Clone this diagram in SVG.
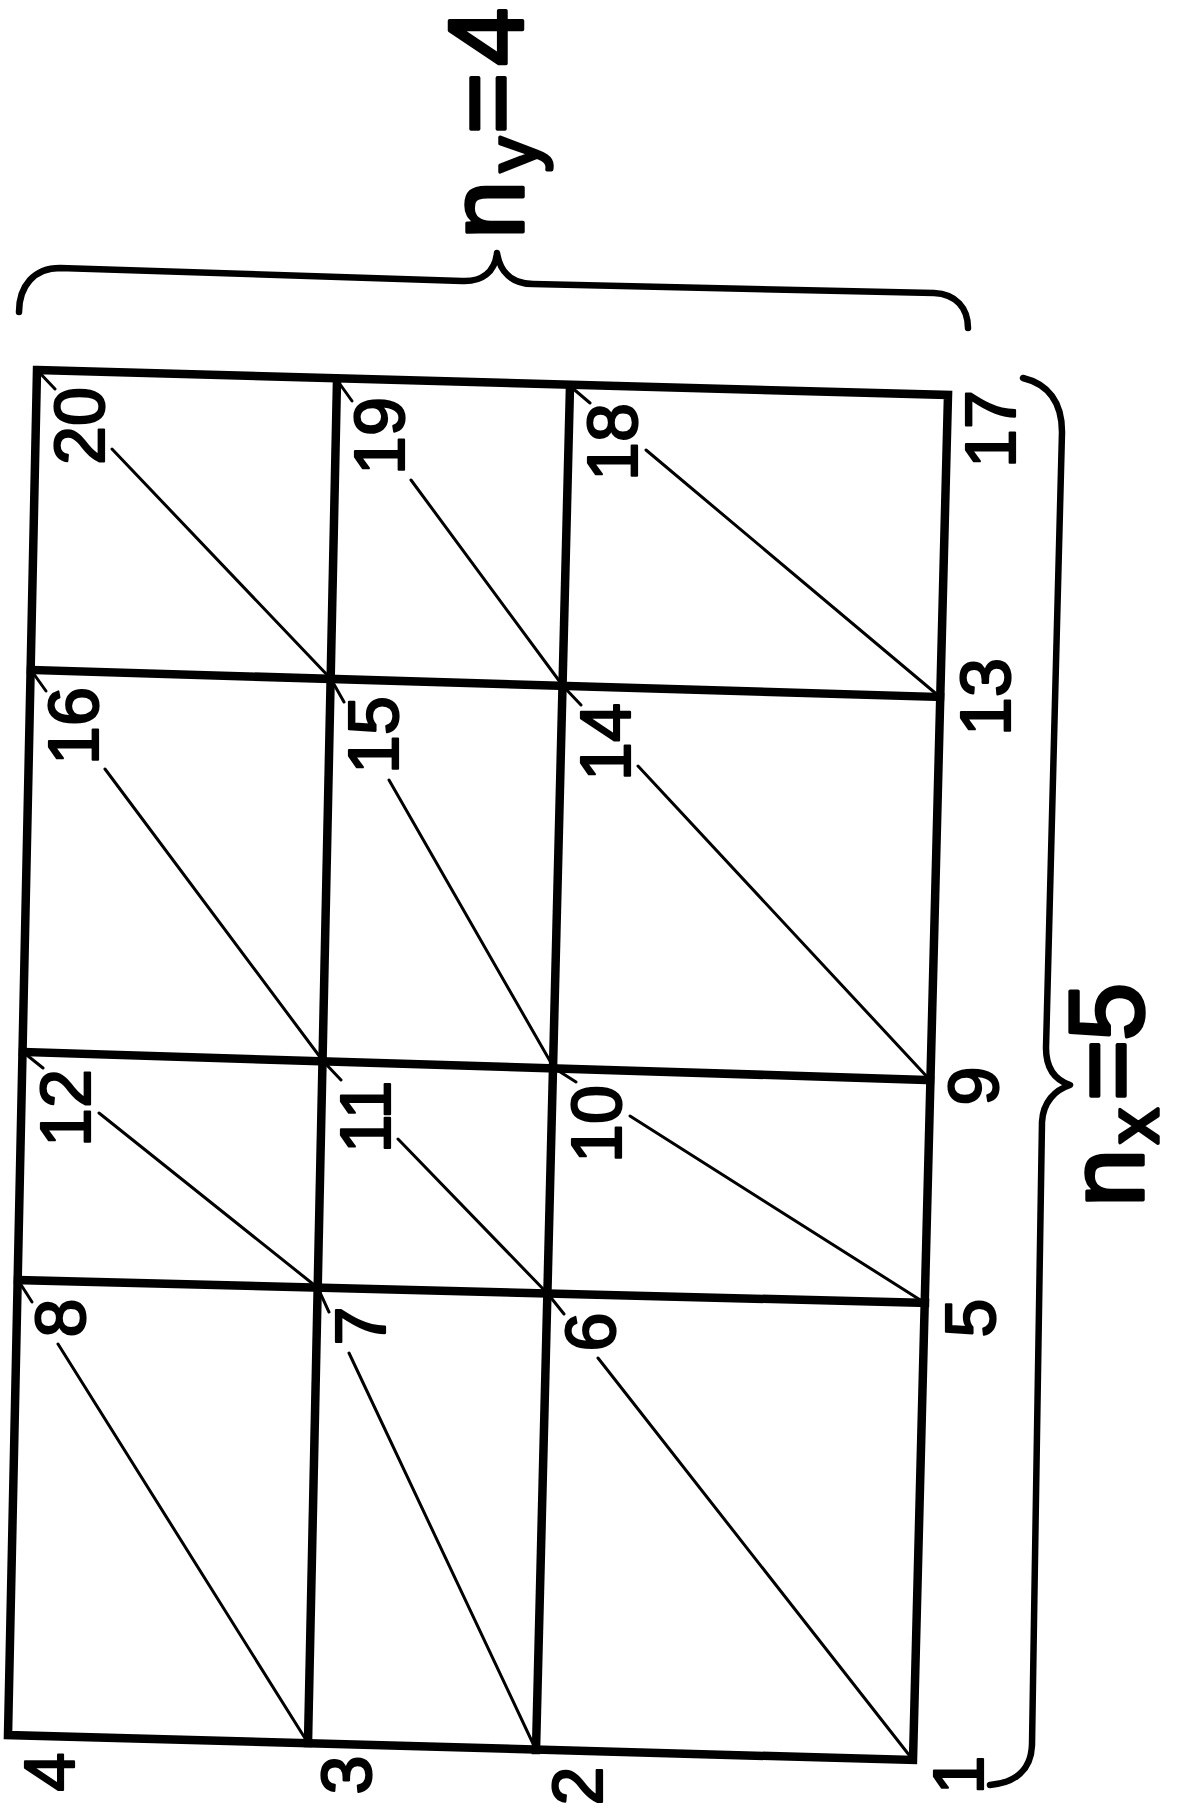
<svg xmlns="http://www.w3.org/2000/svg" width="1180" height="1814" viewBox="0 0 1180 1814">
<style>
.grid{fill:none;stroke:#000;stroke-width:8.5;stroke-linecap:square;stroke-linejoin:miter}
.diag{fill:none;stroke:#000;stroke-width:3;stroke-linecap:round}
.brace{fill:none;stroke:#000;stroke-width:6.5;stroke-linecap:round;stroke-linejoin:round}
.lbl{font-family:"Liberation Sans",Arial,sans-serif;font-size:70px;fill:#000;stroke:#000;stroke-width:2.2;stroke-linejoin:round;text-anchor:middle}
.big{font-family:"Liberation Sans",Arial,sans-serif;font-size:105px;fill:#000;stroke:#000;stroke-width:3.5;stroke-linejoin:round}
</style>
<rect width="1180" height="1814" fill="#fff"/>
<g id="grid">
<path class="grid" d="M37,370 L948,395 L913,1760 L8,1735 Z"/>
<line class="grid" x1="337" y1="380" x2="308" y2="1743"/>
<line class="grid" x1="570" y1="386" x2="536" y2="1750"/>
<line class="grid" x1="31" y1="670" x2="940" y2="697"/>
<line class="grid" x1="23" y1="1052" x2="930" y2="1080"/>
<line class="grid" x1="18" y1="1280" x2="925" y2="1303"/>
</g>
<g id="connectors">
<path class="diag" d="M37,370 L55,389 M112,449 L331,679"/>
<path class="diag" d="M337,380 L352,401 M411,480 L563,686"/>
<path class="diag" d="M570,386 L590,403 M646,450 L940,697"/>
<path class="diag" d="M31,670 L46,691 M105,769 L323,1061"/>
<path class="diag" d="M331,679 L344,702 M389,780 L554,1068"/>
<path class="diag" d="M563,686 L581,705 M638,766 L930,1080"/>
<path class="diag" d="M23,1052 L43,1068 M99,1113 L318,1288"/>
<path class="diag" d="M323,1061 L341,1080 M398,1139 L548,1294"/>
<path class="diag" d="M554,1068 L576,1082 M630,1116 L925,1303"/>
<path class="diag" d="M18,1280 L32,1302 M58,1344 L308,1743"/>
<path class="diag" d="M318,1288 L329,1312 M349,1353 L536,1750"/>
<path class="diag" d="M548,1294 L564,1314 M598,1358 L913,1760"/>
</g>
<g id="n20"><text class="lbl" transform="translate(79,426) rotate(-90)" y="25">20</text></g>
<g id="n19"><text class="lbl" transform="translate(379,436) rotate(-90)" y="25">19</text></g>
<g id="n18"><text class="lbl" transform="translate(612,442) rotate(-90)" y="25">18</text></g>
<g id="n17"><text class="lbl" transform="translate(990,429) rotate(-90)" y="25">17</text></g>
<g id="n16"><text class="lbl" transform="translate(73,726) rotate(-90)" y="25">16</text></g>
<g id="n15"><text class="lbl" transform="translate(373,735) rotate(-90)" y="25">15</text></g>
<g id="n14"><text class="lbl" transform="translate(605,742) rotate(-90)" y="25">14</text></g>
<g id="n13"><text class="lbl" transform="translate(985,697) rotate(-90)" y="25">13</text></g>
<g id="n12"><text class="lbl" transform="translate(65,1108) rotate(-90)" y="25">12</text></g>
<g id="n11"><text class="lbl" transform="translate(365,1117) rotate(-90)" y="25">11</text></g>
<g id="n10"><text class="lbl" transform="translate(596,1124) rotate(-90)" y="25">10</text></g>
<g id="n9"><text class="lbl" transform="translate(973,1086) rotate(-90)" y="25">9</text></g>
<g id="n8"><text class="lbl" transform="translate(60,1318) rotate(-90)" y="25">8</text></g>
<g id="n7"><text class="lbl" transform="translate(360,1326) rotate(-90)" y="25">7</text></g>
<g id="n6"><text class="lbl" transform="translate(590,1332) rotate(-90)" y="25">6</text></g>
<g id="n5"><text class="lbl" transform="translate(970,1318) rotate(-90)" y="25">5</text></g>
<g id="n4"><text class="lbl" transform="translate(49,1772) rotate(-90)" y="25">4</text></g>
<g id="n3"><text class="lbl" transform="translate(346,1775) rotate(-90)" y="25">3</text></g>
<g id="n2"><text class="lbl" transform="translate(577,1786) rotate(-90)" y="25">2</text></g>
<g id="n1"><text class="lbl" transform="translate(958,1775) rotate(-90)" y="25">1</text></g>
<g id="brace-ny">
<path class="brace" d="M19,312 C19,286 34,268 60,268 L462,281 C482,282 495,272 497,253 C500,272 512,284 533,284 L934,293 C956,294 968,308 968,328"/>
<text class="big" transform="translate(523,239) rotate(-90)"><tspan x="0" y="0">n</tspan><tspan x="67" y="14" font-size="70">y</tspan><tspan x="105" y="0">=</tspan><tspan x="173" y="0">4</tspan></text>
</g>
<g id="brace-nx">
<path class="brace" d="M1023,378 C1048,384 1062,402 1062,432 L1046,1048 C1046,1068 1055,1080 1070,1085 C1055,1090 1043,1102 1042,1122 L1032,1745 C1031,1770 1015,1783 990,1785"/>
<text class="big" transform="translate(1143,1207) rotate(-90)"><tspan x="0" y="0">n</tspan><tspan x="63" y="15" font-size="72">x</tspan><tspan x="106" y="0">=</tspan><tspan x="166" y="0">5</tspan></text>
</g>
</svg>
